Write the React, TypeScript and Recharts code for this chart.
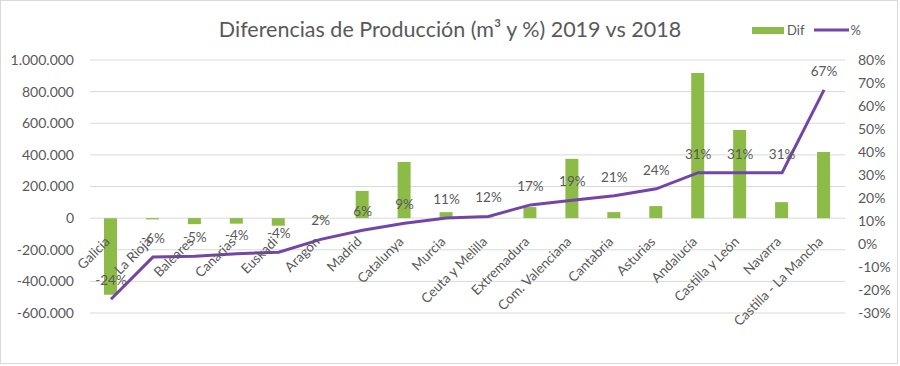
import { ComposedChart, Bar, Line, XAxis, YAxis, CartesianGrid, LabelList } from 'recharts';

const regions = [
  'Galicia', 'La Rioja', 'Baleares', 'Canarias', 'Euskadi', 'Aragón', 'Madrid', 'Catalunya', 'Murcia',
  'Ceuta y Melilla', 'Extremadura', 'Com. Valenciana', 'Cantabria', 'Asturias', 'Andalucía',
  'Castilla y León', 'Navarra', 'Castilla - La Mancha',
];
const difM3 = [
  -485000, -8000, -38000, -35000, -48000, 6000, 172000, 355000, 38000,
  2000, 70000, 375000, 38000, 76000, 918000, 557000, 101000, 418000,
];
const pct = [
  -0.24, -0.057, -0.053, -0.042, -0.036, 0.02, 0.06, 0.09, 0.113,
  0.12, 0.17, 0.19, 0.21, 0.24, 0.31, 0.31, 0.31, 0.67,
];
const leftTicks = [-600000, -400000, -200000, 0, 200000, 400000, 600000, 800000, 1000000];
const rightTicks = [-0.3, -0.2, -0.1, 0, 0.1, 0.2, 0.3, 0.4, 0.5, 0.6, 0.7, 0.8];

const data = regions.map((name, i) => ({ name, dif: difM3[i], pct: pct[i] }));

const FONT = 'Lato, "Open Sans", sans-serif';
const GREY = '#595959';
const GREEN = '#8DBB48';
const PURPLE = '#7445A8';

const fmtThousands = (v: number) => {
  const s = Math.abs(v).toString().replace(/\B(?=(\d{3})+(?!\d))/g, '.');
  return (v < 0 ? '-' : '') + s;
};
const fmtPct = (v: unknown) => `${Math.round(Number(v) * 100)}%`;

// category names sit on the zero line, like Excel does
function ZeroLabel(props: any) {
  const vb = props.viewBox || {};
  const x = props.x ?? vb.x;
  const y = props.y ?? vb.y;
  const w = props.width ?? vb.width;
  const h = props.height ?? vb.height;
  const v = difM3[props.index] ?? 0;
  const zero = v >= 0 ? Math.max(y, y + h) : Math.min(y, y + h);
  const cx = x + w / 2 - 7;
  const cy = zero + 17;
  return (
    <text
      x={cx}
      y={cy}
      textAnchor="end"
      dominantBaseline="hanging"
      transform={`rotate(-45, ${cx}, ${cy})`}
      fontSize={13.5}
      fontFamily={FONT}
      fill={GREY}
    >
      {props.value}
    </text>
  );
}

export default function App() {
  return (
    <div style={{ position: 'absolute', left: 0, top: 0, width: 900, height: 366, background: '#fff', fontFamily: FONT }}>
      <div style={{ position: 'absolute', left: 0, top: 0, width: 896, height: 362, border: '1px solid #d9d9d9' }} />
      <div style={{ position: 'absolute', left: 0, top: 16, width: 900, textAlign: 'center', fontSize: 21.5, color: GREY }}>
        Diferencias de Producción (m³ y %) 2019 vs 2018
      </div>
      <div style={{ position: 'absolute', left: 752, top: 22, display: 'flex', alignItems: 'center', fontSize: 13, color: GREY }}>
        <span style={{ display: 'inline-block', width: 32, height: 7, background: GREEN, marginRight: 3 }} />
        <span style={{ marginRight: 10 }}>Dif</span>
        <svg width={35} height={6} style={{ marginRight: 1 }}>
          <line x1={0} y1={3} x2={35} y2={3} stroke={PURPLE} strokeWidth={3} />
        </svg>
        <span>%</span>
      </div>
      <div style={{ position: 'absolute', left: 0, top: 0 }}>
        <ComposedChart width={900} height={366} data={data} margin={{ top: 60, right: 0, bottom: 53, left: 0 }}>
          <CartesianGrid vertical={false} stroke="#d9d9d9" yAxisId="left" />
          <XAxis dataKey="name" hide />
          <YAxis
            yAxisId="left"
            width={90}
            domain={[-600000, 1000000]}
            ticks={leftTicks}
            tickFormatter={fmtThousands}
            axisLine={false}
            tickLine={false}
            tickSize={0}
            tickMargin={16}
            tick={{ fontSize: 14, fill: GREY, fontFamily: FONT }}
          />
          <YAxis
            yAxisId="right"
            orientation="right"
            width={55}
            domain={[-0.3, 0.8]}
            ticks={rightTicks}
            tickFormatter={fmtPct}
            axisLine={false}
            tickLine={false}
            tickSize={0}
            tickMargin={13}
            tick={{ fontSize: 14, fill: GREY, fontFamily: FONT, textAnchor: 'start' }}
          />
          <Bar yAxisId="left" dataKey="dif" fill={GREEN} barSize={13} isAnimationActive={false}>
            <LabelList dataKey="name" content={<ZeroLabel />} />
          </Bar>
          <Line
            yAxisId="right"
            dataKey="pct"
            stroke={PURPLE}
            strokeWidth={3}
            dot={false}
            type="linear"
            isAnimationActive={false}
          >
            <LabelList
              dataKey="pct"
              position="top"
              offset={14}
              formatter={fmtPct}
              style={{ fontSize: 13.5, fill: GREY, fontFamily: FONT }}
            />
          </Line>
        </ComposedChart>
      </div>
    </div>
  );
}
